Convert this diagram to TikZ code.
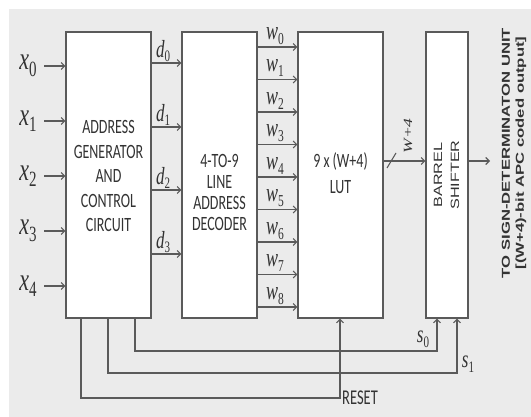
\documentclass[tikz,border=0pt]{standalone}
\usepackage{fontspec}
\usepackage{graphicx}
\usetikzlibrary{arrows.meta}
\newfontfamily\calfont{Carlito}
\newfontfamily\tmsfont{Liberation Serif}
\newfontfamily\arialfont{Liberation Sans}
\newcommand\vst[1]{\scalebox{1}[1.45]{#1}}
\newcommand\hst[1]{\scalebox{1.45}[1]{#1}}
\newcommand\sym[4]{\vst{\tmsfont\fontsize{#3}{#3}\selectfont\itshape #1\upshape\fontsize{#4}{#4}\selectfont\raisebox{-0.3em}{#2}}}
\definecolor{bgc}{HTML}{EBEBEB}
\definecolor{lnc}{HTML}{5A5A5A}
\definecolor{txc}{HTML}{333333}
\tikzset{
  box/.style={draw=lnc, line width=1.1pt, fill=white, inner sep=0pt},
  txt/.style={inner sep=0pt, text=txc},
  arr/.style={draw=lnc, line width=1.1pt, -{Straight Barb[length=3.5pt,width=7pt]}},
  ln/.style={draw=lnc, line width=1.1pt},
  lab/.style={inner sep=0pt, text=txc},
}
\begin{document}
\begin{tikzpicture}[x=1pt,y=-1pt]
\useasboundingbox (0,0) rectangle (531,417);
\fill[bgc] (9,9) rectangle (531,417);

% boxes
\node[box, minimum width=85pt, minimum height=286pt] (agc) at (108.5,175) {};
\node[box, minimum width=75pt, minimum height=286pt] (dec) at (219.5,175) {};
\node[box, minimum width=85pt, minimum height=286pt] (lut) at (340.5,175) {};
\node[box, minimum width=42pt, minimum height=286pt] (bs) at (447,175) {};

% box texts
\node[txt, font=\calfont\fontsize{14}{16.9}\selectfont] (agct) at (108.5,178)
  {\vst{\begin{tabular}{@{}c@{}}ADDRESS\\GENERATOR\\AND\\CONTROL\\CIRCUIT\end{tabular}}};
\node[txt, font=\calfont\fontsize{14}{14.5}\selectfont] (dect) at (219.5,195)
  {\vst{\begin{tabular}{@{}c@{}}4-TO-9\\LINE\\ADDRESS\\DECODER\end{tabular}}};
\node[txt, font=\calfont\fontsize{14}{18}\selectfont] (lutt) at (340.5,175)
  {\vst{\begin{tabular}{@{}c@{}}9 x (W+4)\\LUT\end{tabular}}};
\node[txt, rotate=90, font=\arialfont\fontsize{12}{12}\selectfont] (bst1) at (438,175) {\scalebox{1.35}[1]{BARREL}};
\node[txt, rotate=90, font=\arialfont\fontsize{12}{12}\selectfont] (bst2) at (455,175) {\scalebox{1.35}[1]{SHIFTER}};

% inputs x
\foreach \i/\y in {0/66,1/121,2/176,3/231,4/286}{
  \node[lab] (xl\i) at (28,\y) {\sym{x}{\i}{22}{15}};
  \coordinate (xs\i) at (44,\y);
  \draw[arr] (xs\i) -- (agc.west |- xs\i);
}

% d lines
\foreach \i/\y in {0/63,1/127,2/190,3/254}{
  \coordinate (yd\i) at (0,\y);
  \draw[arr] (agc.east |- yd\i) -- (dec.west |- yd\i);
  \node[lab] (dl\i) at (163,\y-12) {\sym{d}{\i}{17}{11}};
}

% w lines
\foreach \i in {0,...,8}{
  \pgfmathsetmacro\yy{47+32.5*\i}
  \coordinate (yw\i) at (0,\yy);
  \draw[arr] (dec.east |- yw\i) -- (lut.west |- yw\i);
  \node[lab] (wl\i) at (275,\yy-11) {\sym{w}{\i}{18}{11.5}};
}

% LUT -> barrel shifter
\coordinate (yo) at (0,161);
\draw[arr] (lut.east |- yo) -- (bs.west |- yo);
\coordinate (sl1) at (387,168);
\coordinate (sl2) at (396,153);
\draw[ln] (sl1) -- (sl2);
\node[lab, rotate=90] (wlab) at (408,136) {\scalebox{1.4}[1]{\tmsfont\itshape\fontsize{12.5}{13}\selectfont W+4}};

% output
\coordinate (out) at (490,161);
\draw[arr] (bs.east |- yo) -- (out);
\node[txt, rotate=90, font=\arialfont\bfseries\fontsize{11.5}{12}\selectfont] (t1) at (506,153) {\hst{TO SIGN-DETERMINATON UNIT}};
\node[txt, rotate=90, font=\arialfont\bfseries\fontsize{11.5}{12}\selectfont] (t2) at (521,153) {\hst{[(W+4)-bit APC coded output]}};

% feedback lines
\coordinate (a0) at (135,351); \coordinate (b0) at (437,351);
\coordinate (a1) at (108,373); \coordinate (b1) at (457,373);
\coordinate (a2) at (81,398);  \coordinate (b2) at (340,398);
\draw[arr] (agc.south -| a0) -- (a0) -- (b0) -- (bs.south -| b0);
\draw[arr] (agc.south -| a1) -- (a1) -- (b1) -- (bs.south -| b1);
\draw[arr] (agc.south -| a2) -- (a2) -- (b2) -- (lut.south -| b2);
\node[lab] (s0l) at (423,339) {\sym{s}{0}{17}{11}};
\node[lab] (s1l) at (468,364) {\sym{s}{1}{17}{11}};
\node[lab, anchor=west, font=\calfont\fontsize{14.5}{15}\selectfont] (reset) at (342,398) {\vst{RESET}};
\end{tikzpicture}
\end{document}
